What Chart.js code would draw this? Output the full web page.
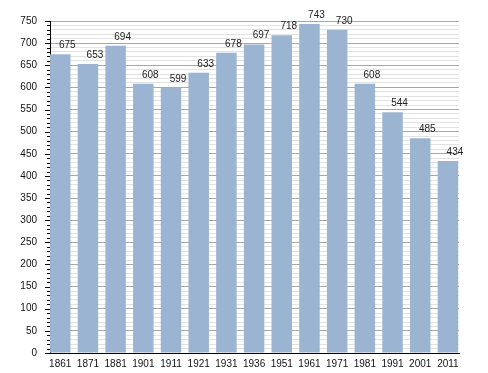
<!DOCTYPE html>
<html lang="en">
<head>
  <meta charset="UTF-8">
  <title>Population</title>
  <script src="https://cdn.jsdelivr.net/npm/chart.js"></script>
  <style>
    html, body { margin: 0; padding: 0; background: #fff; }
    #wrap { width: 488px; height: 373px; }
  </style>
</head>
<body>
  <div id="wrap"><canvas id="chart" width="488" height="373"></canvas></div>
  <script>
    // Data
    const years = ['1861', '1871', '1881', '1901', '1911', '1921', '1931', '1936',
                   '1951', '1961', '1971', '1981', '1991', '2001', '2011'];
    const population = [675, 653, 694, 608, 599, 633, 678, 697, 718, 743, 730, 608, 544, 485, 434];
    const yMax = 750;

    const font = { family: 'Arial, "Liberation Sans", sans-serif', size: 10 };

    // value labels above bars, and y ticks (long every 50, short every 10)
    const extras = {
      id: 'extras',
      afterDatasetsDraw(chart) {
        const ctx = chart.ctx;
        const meta = chart.getDatasetMeta(0);
        ctx.save();
        ctx.font = font.size + 'px ' + font.family;
        ctx.fillStyle = '#222';
        ctx.textAlign = 'center';
        ctx.textBaseline = 'bottom';
        meta.data.forEach((bar, i) => {
          ctx.fillText(String(population[i]), bar.x + 7, bar.y - 4);
        });
        ctx.restore();
      },
      afterDraw(chart) {
        const ctx = chart.ctx;
        const y = chart.scales.y;
        const x0 = chart.chartArea.left;
        ctx.save();
        ctx.strokeStyle = '#000';
        ctx.lineWidth = 1;
        for (let v = 0; v <= yMax; v += 10) {
          const py = Math.round(y.getPixelForValue(v)) + 0.5;
          const len = v % 50 === 0 ? 5 : 3;
          ctx.beginPath();
          ctx.moveTo(x0 - len, py);
          ctx.lineTo(x0, py);
          ctx.stroke();
        }
        ctx.restore();
      }
    };

    new Chart(document.getElementById('chart'), {
      type: 'bar',
      data: {
        datasets: [{
          data: population.map((v, i) => ({ x: i, y: v })),
          backgroundColor: '#9bb4d2',
          borderWidth: 0,
          barPercentage: 0.74,
          categoryPercentage: 1
        }]
      },
      options: {
        responsive: false,
        animation: false,
        layout: { padding: { top: 21, right: 29, left: 0, bottom: 0 } },
        plugins: { legend: { display: false }, tooltip: { enabled: false } },
        scales: {
          x: {
            type: 'linear',
            min: -0.37,
            max: 14.4,
            offset: false,
            afterBuildTicks: s => { s.ticks = years.map((_, i) => ({ value: i })); },
            afterFit: s => { s.height = 20; },
            grid: { display: false, drawTicks: false },
            border: { color: '#000', width: 1 },
            ticks: {
              font, color: '#111', padding: 5, maxRotation: 0, autoSkip: false,
              callback: v => years[v]
            }
          },
          y: {
            min: 0,
            max: yMax,
            afterFit: s => { s.width = 50; },
            afterBuildTicks: s => {
              const t = [];
              for (let v = 0; v <= yMax; v += 10) t.push({ value: v });
              s.ticks = t;
            },
            grid: {
              drawTicks: false,
              color: c => c.tick && c.tick.value % 50 === 0 ? '#a8a8a8' : '#e2e2e2'
            },
            border: { color: '#000', width: 1 },
            ticks: {
              font, color: '#111', padding: 13, autoSkip: false,
              callback: v => v % 50 === 0 ? String(v) : ''
            }
          }
        }
      },
      plugins: [extras]
    });
  </script>
</body>
</html>
